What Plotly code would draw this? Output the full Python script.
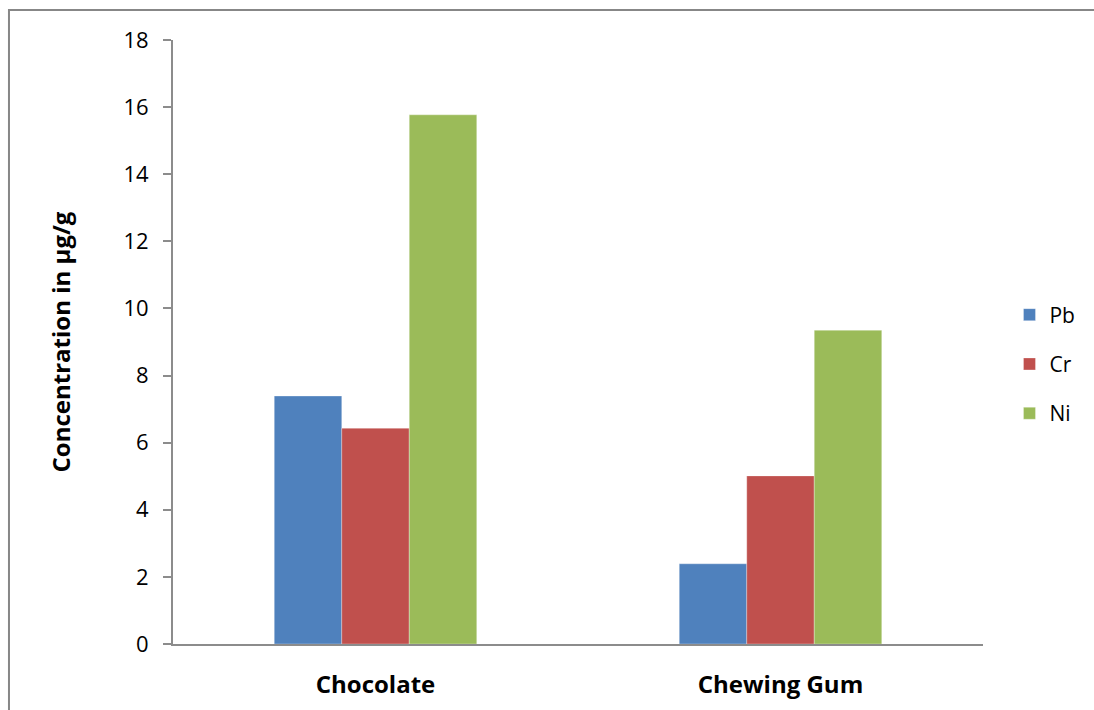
import plotly.graph_objects as go

# Heavy-metal concentrations (µg/g) by product
categories = ["Chocolate", "Chewing Gum"]
pb_values = [7.39, 2.39]
cr_values = [6.43, 5.01]
ni_values = [15.77, 9.35]

series = [
    ("Pb", pb_values, "#4F81BD"),
    ("Cr", cr_values, "#C0504D"),
    ("Ni", ni_values, "#9BBB59"),
]

y_ticks = list(range(0, 19, 2))

FONT = "'Open Sans', Calibri, sans-serif"

fig = go.Figure()
for name, vals, color in series:
    fig.add_trace(go.Bar(
        name=name,
        x=categories,
        y=vals,
        legendgroup=name,
        marker=dict(color=color, line=dict(width=0.6, color="rgba(255,255,255,0.5)")),
    ))

fig.update_layout(
    width=1094,
    height=710,
    margin=dict(l=173, r=111, t=40, b=66, autoexpand=False),
    paper_bgcolor="white",
    plot_bgcolor="white",
    barmode="group",
    bargap=0.5,
    bargroupgap=0,
    font=dict(family=FONT, size=22, color="black"),
    showlegend=True,
    legend=dict(
        x=1.0327, xanchor="left",
        y=0.4636, yanchor="middle",
        font=dict(size=21, family=FONT),
        tracegroupgap=19,
        itemwidth=30,
    ),
    xaxis=dict(
        showline=True,
        linecolor="#8C8C8C",
        linewidth=2,
        ticks="",
        showgrid=False,
        tickfont=dict(size=24, family=FONT, color="black", weight="bold"),
        ticklabelstandoff=18,
    ),
    yaxis=dict(
        range=[0, 18],
        tickvals=y_ticks,
        showline=True,
        linecolor="#8C8C8C",
        linewidth=2,
        ticks="outside",
        ticklen=8,
        tickwidth=2,
        tickcolor="#8C8C8C",
        showgrid=False,
        zeroline=False,
        tickfont=dict(size=22, family=FONT, color="black"),
        ticklabelstandoff=10,
        title=dict(
            text="Concentration in µg/g",
            font=dict(size=24, family=FONT, color="black", weight="bold"),
            standoff=46,
        ),
    ),
    shapes=[
        dict(
            type="rect",
            xref="paper", yref="paper",
            x0=-0.2025, x1=1.16,
            y0=-0.2, y1=1.0497,
            line=dict(color="#878787", width=2),
            fillcolor="rgba(0,0,0,0)",
            layer="below",
        )
    ],
)

fig.write_html("out.html")
